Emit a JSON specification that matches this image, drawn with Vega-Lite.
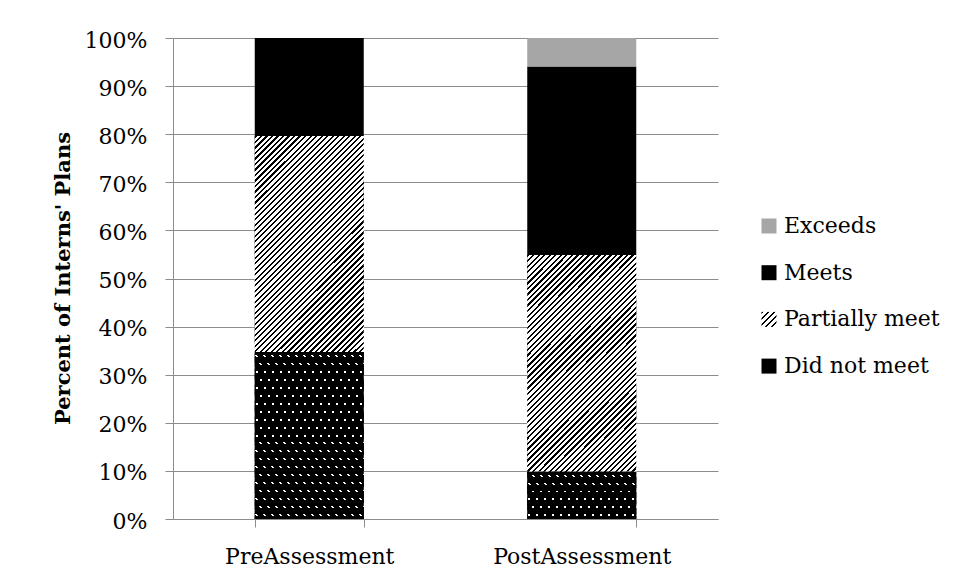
{
  "$schema": "https://vega.github.io/schema/vega-lite/v6.json",
  "width": 545,
  "height": 481,
  "autosize": {"type": "none"},
  "padding": {"left": 173, "top": 38, "right": 238, "bottom": 61},
  "background": "white",
  "config": {"view": {"stroke": null}, "font": "DejaVu Serif"},
  "data": {"values": [
    {"assessment": "PreAssessment", "level": "Did not meet", "k": 1, "share": 0.347},
    {"assessment": "PreAssessment", "level": "Partially meet", "k": 2, "share": 0.449},
    {"assessment": "PreAssessment", "level": "Meets", "k": 3, "share": 0.204},
    {"assessment": "PostAssessment", "level": "Did not meet", "k": 1, "share": 0.098},
    {"assessment": "PostAssessment", "level": "Partially meet", "k": 2, "share": 0.451},
    {"assessment": "PostAssessment", "level": "Meets", "k": 3, "share": 0.392},
    {"assessment": "PostAssessment", "level": "Exceeds", "k": 4, "share": 0.059}
  ]},
  "transform": [
    {"stack": "share", "groupby": ["assessment"], "sort": [{"field": "k", "order": "ascending"}], "as": ["v0", "v1"]}
  ],
  "encoding": {
    "x": {
      "field": "assessment", "type": "nominal", "sort": ["PreAssessment", "PostAssessment"],
      "scale": {"paddingInner": 0.6, "paddingOuter": 0.3},
      "axis": {
        "title": null, "labelAngle": 0, "labelFont": "DejaVu Serif", "labelFontSize": 22, "labelColor": "#000",
        "labelPadding": 19, "tickBand": "extent", "tickSize": 8, "tickColor": "#8c8c8c", "domainColor": "#8c8c8c", "grid": false
      }
    },
    "y": {
      "field": "v1", "type": "quantitative", "scale": {"domain": [0, 1], "nice": false},
      "axis": {
        "title": "Percent of Interns' Plans", "values": [0, 0.1, 0.2, 0.3, 0.4, 0.5, 0.6, 0.7, 0.8, 0.9, 1], "format": ".0%",
        "grid": true, "gridColor": "#8c8c8c", "gridWidth": 1, "domainColor": "#8c8c8c", "tickColor": "#8c8c8c", "tickSize": 8,
        "labelFont": "DejaVu Serif", "labelFontSize": 22, "labelColor": "#000", "labelPadding": 18, "labelOffset": 2,
        "titleFont": "DejaVu Serif", "titleFontSize": 21, "titleFontWeight": "bold", "titleColor": "#000",
        "titleX": -110, "titleY": 240, "titleAngle": 270, "titleAlign": "center", "titleBaseline": "middle"
      }
    },
    "y2": {"field": "v0"}
  },
  "layer": [
    {
      "mark": {"type": "bar"},
      "encoding": {
        "color": {
          "field": "level", "type": "nominal",
          "scale": {
            "domain": ["Exceeds", "Meets", "Partially meet", "Did not meet"],
            "range": [
              "#a6a6a6",
              "#000000",
              {"expr": "{gradient: 'linear', x1: 0, y1: 0, x2: 1, y2: 1, stops: [{offset: 0, color: '#000'}, {offset: 0.08, color: '#000'}, {offset: 0.08, color: '#fff'}, {offset: 0.2, color: '#fff'}, {offset: 0.2, color: '#000'}, {offset: 0.28, color: '#000'}, {offset: 0.28, color: '#fff'}, {offset: 0.4, color: '#fff'}, {offset: 0.4, color: '#000'}, {offset: 0.48, color: '#000'}, {offset: 0.48, color: '#fff'}, {offset: 0.6, color: '#fff'}, {offset: 0.6, color: '#000'}, {offset: 0.68, color: '#000'}, {offset: 0.68, color: '#fff'}, {offset: 0.8, color: '#fff'}, {offset: 0.8, color: '#000'}, {offset: 0.88, color: '#000'}, {offset: 0.88, color: '#fff'}, {offset: 1, color: '#fff'}]}"},
              "#000000"
            ]
          },
          "legend": {
            "title": null, "orient": "none", "legendX": 585, "legendY": 177, "symbolType": "square", "symbolSize": 225,
            "symbolStrokeWidth": 0, "labelFont": "DejaVu Serif", "labelFontSize": 22, "labelColor": "#000", "labelOffset": 4,
            "rowPadding": 24.7, "padding": 0
          }
        }
      }
    },
    {
      "transform": [{"filter": "datum.level === 'Partially meet'"}],
      "mark": {"type": "bar", "fill": {"gradient": "linear", "x1": 0, "y1": 0, "x2": 0.605, "y2": 1.2, "stops": [
        {"offset": 0, "color": "#000"}, {"offset": 0.0068, "color": "#000"}, {"offset": 0.0068, "color": "#fff"}, {"offset": 0.0169, "color": "#fff"},
        {"offset": 0.0169, "color": "#000"}, {"offset": 0.0237, "color": "#000"}, {"offset": 0.0237, "color": "#fff"}, {"offset": 0.0339, "color": "#fff"},
        {"offset": 0.0339, "color": "#000"}, {"offset": 0.0407, "color": "#000"}, {"offset": 0.0407, "color": "#fff"}, {"offset": 0.0508, "color": "#fff"},
        {"offset": 0.0508, "color": "#000"}, {"offset": 0.0576, "color": "#000"}, {"offset": 0.0576, "color": "#fff"}, {"offset": 0.0678, "color": "#fff"},
        {"offset": 0.0678, "color": "#000"}, {"offset": 0.0746, "color": "#000"}, {"offset": 0.0746, "color": "#fff"}, {"offset": 0.0847, "color": "#fff"},
        {"offset": 0.0847, "color": "#000"}, {"offset": 0.0915, "color": "#000"}, {"offset": 0.0915, "color": "#fff"}, {"offset": 0.1017, "color": "#fff"},
        {"offset": 0.1017, "color": "#000"}, {"offset": 0.1085, "color": "#000"}, {"offset": 0.1085, "color": "#fff"}, {"offset": 0.1186, "color": "#fff"},
        {"offset": 0.1186, "color": "#000"}, {"offset": 0.1254, "color": "#000"}, {"offset": 0.1254, "color": "#fff"}, {"offset": 0.1356, "color": "#fff"},
        {"offset": 0.1356, "color": "#000"}, {"offset": 0.1424, "color": "#000"}, {"offset": 0.1424, "color": "#fff"}, {"offset": 0.1525, "color": "#fff"},
        {"offset": 0.1525, "color": "#000"}, {"offset": 0.1593, "color": "#000"}, {"offset": 0.1593, "color": "#fff"}, {"offset": 0.1695, "color": "#fff"},
        {"offset": 0.1695, "color": "#000"}, {"offset": 0.1763, "color": "#000"}, {"offset": 0.1763, "color": "#fff"}, {"offset": 0.1864, "color": "#fff"},
        {"offset": 0.1864, "color": "#000"}, {"offset": 0.1932, "color": "#000"}, {"offset": 0.1932, "color": "#fff"}, {"offset": 0.2034, "color": "#fff"},
        {"offset": 0.2034, "color": "#000"}, {"offset": 0.2102, "color": "#000"}, {"offset": 0.2102, "color": "#fff"}, {"offset": 0.2203, "color": "#fff"},
        {"offset": 0.2203, "color": "#000"}, {"offset": 0.2271, "color": "#000"}, {"offset": 0.2271, "color": "#fff"}, {"offset": 0.2373, "color": "#fff"},
        {"offset": 0.2373, "color": "#000"}, {"offset": 0.2441, "color": "#000"}, {"offset": 0.2441, "color": "#fff"}, {"offset": 0.2542, "color": "#fff"},
        {"offset": 0.2542, "color": "#000"}, {"offset": 0.2610, "color": "#000"}, {"offset": 0.2610, "color": "#fff"}, {"offset": 0.2712, "color": "#fff"},
        {"offset": 0.2712, "color": "#000"}, {"offset": 0.2780, "color": "#000"}, {"offset": 0.2780, "color": "#fff"}, {"offset": 0.2881, "color": "#fff"},
        {"offset": 0.2881, "color": "#000"}, {"offset": 0.2949, "color": "#000"}, {"offset": 0.2949, "color": "#fff"}, {"offset": 0.3051, "color": "#fff"},
        {"offset": 0.3051, "color": "#000"}, {"offset": 0.3119, "color": "#000"}, {"offset": 0.3119, "color": "#fff"}, {"offset": 0.3220, "color": "#fff"},
        {"offset": 0.3220, "color": "#000"}, {"offset": 0.3288, "color": "#000"}, {"offset": 0.3288, "color": "#fff"}, {"offset": 0.3390, "color": "#fff"},
        {"offset": 0.3390, "color": "#000"}, {"offset": 0.3458, "color": "#000"}, {"offset": 0.3458, "color": "#fff"}, {"offset": 0.3559, "color": "#fff"},
        {"offset": 0.3559, "color": "#000"}, {"offset": 0.3627, "color": "#000"}, {"offset": 0.3627, "color": "#fff"}, {"offset": 0.3729, "color": "#fff"},
        {"offset": 0.3729, "color": "#000"}, {"offset": 0.3797, "color": "#000"}, {"offset": 0.3797, "color": "#fff"}, {"offset": 0.3898, "color": "#fff"},
        {"offset": 0.3898, "color": "#000"}, {"offset": 0.3966, "color": "#000"}, {"offset": 0.3966, "color": "#fff"}, {"offset": 0.4068, "color": "#fff"},
        {"offset": 0.4068, "color": "#000"}, {"offset": 0.4136, "color": "#000"}, {"offset": 0.4136, "color": "#fff"}, {"offset": 0.4237, "color": "#fff"},
        {"offset": 0.4237, "color": "#000"}, {"offset": 0.4305, "color": "#000"}, {"offset": 0.4305, "color": "#fff"}, {"offset": 0.4407, "color": "#fff"},
        {"offset": 0.4407, "color": "#000"}, {"offset": 0.4475, "color": "#000"}, {"offset": 0.4475, "color": "#fff"}, {"offset": 0.4576, "color": "#fff"},
        {"offset": 0.4576, "color": "#000"}, {"offset": 0.4644, "color": "#000"}, {"offset": 0.4644, "color": "#fff"}, {"offset": 0.4746, "color": "#fff"},
        {"offset": 0.4746, "color": "#000"}, {"offset": 0.4814, "color": "#000"}, {"offset": 0.4814, "color": "#fff"}, {"offset": 0.4915, "color": "#fff"},
        {"offset": 0.4915, "color": "#000"}, {"offset": 0.4983, "color": "#000"}, {"offset": 0.4983, "color": "#fff"}, {"offset": 0.5085, "color": "#fff"},
        {"offset": 0.5085, "color": "#000"}, {"offset": 0.5153, "color": "#000"}, {"offset": 0.5153, "color": "#fff"}, {"offset": 0.5254, "color": "#fff"},
        {"offset": 0.5254, "color": "#000"}, {"offset": 0.5322, "color": "#000"}, {"offset": 0.5322, "color": "#fff"}, {"offset": 0.5424, "color": "#fff"},
        {"offset": 0.5424, "color": "#000"}, {"offset": 0.5492, "color": "#000"}, {"offset": 0.5492, "color": "#fff"}, {"offset": 0.5593, "color": "#fff"},
        {"offset": 0.5593, "color": "#000"}, {"offset": 0.5661, "color": "#000"}, {"offset": 0.5661, "color": "#fff"}, {"offset": 0.5763, "color": "#fff"},
        {"offset": 0.5763, "color": "#000"}, {"offset": 0.5831, "color": "#000"}, {"offset": 0.5831, "color": "#fff"}, {"offset": 0.5932, "color": "#fff"},
        {"offset": 0.5932, "color": "#000"}, {"offset": 0.6000, "color": "#000"}, {"offset": 0.6000, "color": "#fff"}, {"offset": 0.6102, "color": "#fff"},
        {"offset": 0.6102, "color": "#000"}, {"offset": 0.6170, "color": "#000"}, {"offset": 0.6170, "color": "#fff"}, {"offset": 0.6271, "color": "#fff"},
        {"offset": 0.6271, "color": "#000"}, {"offset": 0.6339, "color": "#000"}, {"offset": 0.6339, "color": "#fff"}, {"offset": 0.6441, "color": "#fff"},
        {"offset": 0.6441, "color": "#000"}, {"offset": 0.6509, "color": "#000"}, {"offset": 0.6509, "color": "#fff"}, {"offset": 0.6610, "color": "#fff"},
        {"offset": 0.6610, "color": "#000"}, {"offset": 0.6678, "color": "#000"}, {"offset": 0.6678, "color": "#fff"}, {"offset": 0.6780, "color": "#fff"},
        {"offset": 0.6780, "color": "#000"}, {"offset": 0.6848, "color": "#000"}, {"offset": 0.6848, "color": "#fff"}, {"offset": 0.6949, "color": "#fff"},
        {"offset": 0.6949, "color": "#000"}, {"offset": 0.7017, "color": "#000"}, {"offset": 0.7017, "color": "#fff"}, {"offset": 0.7119, "color": "#fff"},
        {"offset": 0.7119, "color": "#000"}, {"offset": 0.7187, "color": "#000"}, {"offset": 0.7187, "color": "#fff"}, {"offset": 0.7288, "color": "#fff"},
        {"offset": 0.7288, "color": "#000"}, {"offset": 0.7356, "color": "#000"}, {"offset": 0.7356, "color": "#fff"}, {"offset": 0.7458, "color": "#fff"},
        {"offset": 0.7458, "color": "#000"}, {"offset": 0.7526, "color": "#000"}, {"offset": 0.7526, "color": "#fff"}, {"offset": 0.7627, "color": "#fff"},
        {"offset": 0.7627, "color": "#000"}, {"offset": 0.7695, "color": "#000"}, {"offset": 0.7695, "color": "#fff"}, {"offset": 0.7797, "color": "#fff"},
        {"offset": 0.7797, "color": "#000"}, {"offset": 0.7865, "color": "#000"}, {"offset": 0.7865, "color": "#fff"}, {"offset": 0.7966, "color": "#fff"},
        {"offset": 0.7966, "color": "#000"}, {"offset": 0.8034, "color": "#000"}, {"offset": 0.8034, "color": "#fff"}, {"offset": 0.8136, "color": "#fff"},
        {"offset": 0.8136, "color": "#000"}, {"offset": 0.8204, "color": "#000"}, {"offset": 0.8204, "color": "#fff"}, {"offset": 0.8305, "color": "#fff"},
        {"offset": 0.8305, "color": "#000"}, {"offset": 0.8373, "color": "#000"}, {"offset": 0.8373, "color": "#fff"}, {"offset": 0.8475, "color": "#fff"},
        {"offset": 0.8475, "color": "#000"}, {"offset": 0.8543, "color": "#000"}, {"offset": 0.8543, "color": "#fff"}, {"offset": 0.8644, "color": "#fff"},
        {"offset": 0.8644, "color": "#000"}, {"offset": 0.8712, "color": "#000"}, {"offset": 0.8712, "color": "#fff"}, {"offset": 0.8814, "color": "#fff"},
        {"offset": 0.8814, "color": "#000"}, {"offset": 0.8882, "color": "#000"}, {"offset": 0.8882, "color": "#fff"}, {"offset": 0.8983, "color": "#fff"},
        {"offset": 0.8983, "color": "#000"}, {"offset": 0.9051, "color": "#000"}, {"offset": 0.9051, "color": "#fff"}, {"offset": 0.9153, "color": "#fff"},
        {"offset": 0.9153, "color": "#000"}, {"offset": 0.9221, "color": "#000"}, {"offset": 0.9221, "color": "#fff"}, {"offset": 0.9322, "color": "#fff"},
        {"offset": 0.9322, "color": "#000"}, {"offset": 0.9390, "color": "#000"}, {"offset": 0.9390, "color": "#fff"}, {"offset": 0.9492, "color": "#fff"},
        {"offset": 0.9492, "color": "#000"}, {"offset": 0.9560, "color": "#000"}, {"offset": 0.9560, "color": "#fff"}, {"offset": 0.9661, "color": "#fff"},
        {"offset": 0.9661, "color": "#000"}, {"offset": 0.9729, "color": "#000"}, {"offset": 0.9729, "color": "#fff"}, {"offset": 0.9831, "color": "#fff"},
        {"offset": 0.9831, "color": "#000"}, {"offset": 0.9899, "color": "#000"}, {"offset": 0.9899, "color": "#fff"}, {"offset": 1, "color": "#fff"}
      ]}}
    },
    {
      "transform": [{"filter": "datum.level === 'Did not meet' && datum.assessment === 'PreAssessment'"}],
      "mark": {"type": "bar", "fill": {"gradient": "linear", "x1": 0, "y1": 1, "x2": 1.1109, "y2": 0.1439, "stops": [
        {"offset": 0, "color": "#000"},
        {"offset": 0.01554, "color": "#000"}, {"offset": 0.01554, "color": "#fff"}, {"offset": 0.02591, "color": "#fff"}, {"offset": 0.02591, "color": "#000"},
        {"offset": 0.05699, "color": "#000"}, {"offset": 0.05699, "color": "#fff"}, {"offset": 0.06736, "color": "#fff"}, {"offset": 0.06736, "color": "#000"},
        {"offset": 0.09845, "color": "#000"}, {"offset": 0.09845, "color": "#fff"}, {"offset": 0.10881, "color": "#fff"}, {"offset": 0.10881, "color": "#000"},
        {"offset": 0.13990, "color": "#000"}, {"offset": 0.13990, "color": "#fff"}, {"offset": 0.15026, "color": "#fff"}, {"offset": 0.15026, "color": "#000"},
        {"offset": 0.18135, "color": "#000"}, {"offset": 0.18135, "color": "#fff"}, {"offset": 0.19171, "color": "#fff"}, {"offset": 0.19171, "color": "#000"},
        {"offset": 0.22280, "color": "#000"}, {"offset": 0.22280, "color": "#fff"}, {"offset": 0.23316, "color": "#fff"}, {"offset": 0.23316, "color": "#000"},
        {"offset": 0.26425, "color": "#000"}, {"offset": 0.26425, "color": "#fff"}, {"offset": 0.27461, "color": "#fff"}, {"offset": 0.27461, "color": "#000"},
        {"offset": 0.30570, "color": "#000"}, {"offset": 0.30570, "color": "#fff"}, {"offset": 0.31606, "color": "#fff"}, {"offset": 0.31606, "color": "#000"},
        {"offset": 0.34715, "color": "#000"}, {"offset": 0.34715, "color": "#fff"}, {"offset": 0.35751, "color": "#fff"}, {"offset": 0.35751, "color": "#000"},
        {"offset": 0.38860, "color": "#000"}, {"offset": 0.38860, "color": "#fff"}, {"offset": 0.39896, "color": "#fff"}, {"offset": 0.39896, "color": "#000"},
        {"offset": 0.43005, "color": "#000"}, {"offset": 0.43005, "color": "#fff"}, {"offset": 0.44041, "color": "#fff"}, {"offset": 0.44041, "color": "#000"},
        {"offset": 0.47150, "color": "#000"}, {"offset": 0.47150, "color": "#fff"}, {"offset": 0.48187, "color": "#fff"}, {"offset": 0.48187, "color": "#000"},
        {"offset": 0.51295, "color": "#000"}, {"offset": 0.51295, "color": "#fff"}, {"offset": 0.52332, "color": "#fff"}, {"offset": 0.52332, "color": "#000"},
        {"offset": 0.55440, "color": "#000"}, {"offset": 0.55440, "color": "#fff"}, {"offset": 0.56477, "color": "#fff"}, {"offset": 0.56477, "color": "#000"},
        {"offset": 0.59585, "color": "#000"}, {"offset": 0.59585, "color": "#fff"}, {"offset": 0.60622, "color": "#fff"}, {"offset": 0.60622, "color": "#000"},
        {"offset": 0.63731, "color": "#000"}, {"offset": 0.63731, "color": "#fff"}, {"offset": 0.64767, "color": "#fff"}, {"offset": 0.64767, "color": "#000"},
        {"offset": 0.67876, "color": "#000"}, {"offset": 0.67876, "color": "#fff"}, {"offset": 0.68912, "color": "#fff"}, {"offset": 0.68912, "color": "#000"},
        {"offset": 0.72021, "color": "#000"}, {"offset": 0.72021, "color": "#fff"}, {"offset": 0.73057, "color": "#fff"}, {"offset": 0.73057, "color": "#000"},
        {"offset": 0.76166, "color": "#000"}, {"offset": 0.76166, "color": "#fff"}, {"offset": 0.77202, "color": "#fff"}, {"offset": 0.77202, "color": "#000"},
        {"offset": 0.80311, "color": "#000"}, {"offset": 0.80311, "color": "#fff"}, {"offset": 0.81347, "color": "#fff"}, {"offset": 0.81347, "color": "#000"},
        {"offset": 0.84456, "color": "#000"}, {"offset": 0.84456, "color": "#fff"}, {"offset": 0.85492, "color": "#fff"}, {"offset": 0.85492, "color": "#000"},
        {"offset": 0.88601, "color": "#000"}, {"offset": 0.88601, "color": "#fff"}, {"offset": 0.89637, "color": "#fff"}, {"offset": 0.89637, "color": "#000"},
        {"offset": 0.92746, "color": "#000"}, {"offset": 0.92746, "color": "#fff"}, {"offset": 0.93782, "color": "#fff"}, {"offset": 0.93782, "color": "#000"},
        {"offset": 0.96891, "color": "#000"}, {"offset": 0.96891, "color": "#fff"}, {"offset": 0.97927, "color": "#fff"}, {"offset": 0.97927, "color": "#000"},
        {"offset": 1, "color": "#000"}
      ]}}
    },
    {
      "transform": [{"filter": "datum.level === 'Did not meet' && datum.assessment === 'PreAssessment'"}],
      "mark": {"type": "bar", "fill": {"gradient": "linear", "x1": 0, "y1": 1, "x2": 0, "y2": 0, "stops": [
        {"offset": 0, "color": "#000"},
        {"offset": 0.0178, "color": "#000"}, {"offset": 0.0178, "color": "rgba(0,0,0,0)"}, {"offset": 0.0298, "color": "rgba(0,0,0,0)"}, {"offset": 0.0298, "color": "#000"},
        {"offset": 0.0654, "color": "#000"}, {"offset": 0.0654, "color": "rgba(0,0,0,0)"}, {"offset": 0.0774, "color": "rgba(0,0,0,0)"}, {"offset": 0.0774, "color": "#000"},
        {"offset": 0.1130, "color": "#000"}, {"offset": 0.1130, "color": "rgba(0,0,0,0)"}, {"offset": 0.1250, "color": "rgba(0,0,0,0)"}, {"offset": 0.1250, "color": "#000"},
        {"offset": 0.1607, "color": "#000"}, {"offset": 0.1607, "color": "rgba(0,0,0,0)"}, {"offset": 0.1727, "color": "rgba(0,0,0,0)"}, {"offset": 0.1727, "color": "#000"},
        {"offset": 0.2083, "color": "#000"}, {"offset": 0.2083, "color": "rgba(0,0,0,0)"}, {"offset": 0.2203, "color": "rgba(0,0,0,0)"}, {"offset": 0.2203, "color": "#000"},
        {"offset": 0.2559, "color": "#000"}, {"offset": 0.2559, "color": "rgba(0,0,0,0)"}, {"offset": 0.2679, "color": "rgba(0,0,0,0)"}, {"offset": 0.2679, "color": "#000"},
        {"offset": 0.3035, "color": "#000"}, {"offset": 0.3035, "color": "rgba(0,0,0,0)"}, {"offset": 0.3155, "color": "rgba(0,0,0,0)"}, {"offset": 0.3155, "color": "#000"},
        {"offset": 0.3511, "color": "#000"}, {"offset": 0.3511, "color": "rgba(0,0,0,0)"}, {"offset": 0.3631, "color": "rgba(0,0,0,0)"}, {"offset": 0.3631, "color": "#000"},
        {"offset": 0.3988, "color": "#000"}, {"offset": 0.3988, "color": "rgba(0,0,0,0)"}, {"offset": 0.4108, "color": "rgba(0,0,0,0)"}, {"offset": 0.4108, "color": "#000"},
        {"offset": 0.4464, "color": "#000"}, {"offset": 0.4464, "color": "rgba(0,0,0,0)"}, {"offset": 0.4584, "color": "rgba(0,0,0,0)"}, {"offset": 0.4584, "color": "#000"},
        {"offset": 0.4940, "color": "#000"}, {"offset": 0.4940, "color": "rgba(0,0,0,0)"}, {"offset": 0.5060, "color": "rgba(0,0,0,0)"}, {"offset": 0.5060, "color": "#000"},
        {"offset": 0.5416, "color": "#000"}, {"offset": 0.5416, "color": "rgba(0,0,0,0)"}, {"offset": 0.5536, "color": "rgba(0,0,0,0)"}, {"offset": 0.5536, "color": "#000"},
        {"offset": 0.5892, "color": "#000"}, {"offset": 0.5892, "color": "rgba(0,0,0,0)"}, {"offset": 0.6012, "color": "rgba(0,0,0,0)"}, {"offset": 0.6012, "color": "#000"},
        {"offset": 0.6369, "color": "#000"}, {"offset": 0.6369, "color": "rgba(0,0,0,0)"}, {"offset": 0.6489, "color": "rgba(0,0,0,0)"}, {"offset": 0.6489, "color": "#000"},
        {"offset": 0.6845, "color": "#000"}, {"offset": 0.6845, "color": "rgba(0,0,0,0)"}, {"offset": 0.6965, "color": "rgba(0,0,0,0)"}, {"offset": 0.6965, "color": "#000"},
        {"offset": 0.7321, "color": "#000"}, {"offset": 0.7321, "color": "rgba(0,0,0,0)"}, {"offset": 0.7441, "color": "rgba(0,0,0,0)"}, {"offset": 0.7441, "color": "#000"},
        {"offset": 0.7797, "color": "#000"}, {"offset": 0.7797, "color": "rgba(0,0,0,0)"}, {"offset": 0.7917, "color": "rgba(0,0,0,0)"}, {"offset": 0.7917, "color": "#000"},
        {"offset": 0.8273, "color": "#000"}, {"offset": 0.8273, "color": "rgba(0,0,0,0)"}, {"offset": 0.8393, "color": "rgba(0,0,0,0)"}, {"offset": 0.8393, "color": "#000"},
        {"offset": 0.8750, "color": "#000"}, {"offset": 0.8750, "color": "rgba(0,0,0,0)"}, {"offset": 0.8870, "color": "rgba(0,0,0,0)"}, {"offset": 0.8870, "color": "#000"},
        {"offset": 0.9226, "color": "#000"}, {"offset": 0.9226, "color": "rgba(0,0,0,0)"}, {"offset": 0.9346, "color": "rgba(0,0,0,0)"}, {"offset": 0.9346, "color": "#000"},
        {"offset": 0.9702, "color": "#000"}, {"offset": 0.9702, "color": "rgba(0,0,0,0)"}, {"offset": 0.9822, "color": "rgba(0,0,0,0)"}, {"offset": 0.9822, "color": "#000"},
        {"offset": 1, "color": "#000"}
      ]}}
    },
    {
      "transform": [{"filter": "datum.level === 'Did not meet' && datum.assessment === 'PostAssessment'"}],
      "mark": {"type": "bar", "fill": {"gradient": "linear", "x1": 0, "y1": 1, "x2": 1.1638, "y2": 0.7438, "stops": [
        {"offset": 0, "color": "#000"},
        {"offset": 0.02256, "color": "#000"}, {"offset": 0.02256, "color": "#fff"}, {"offset": 0.03759, "color": "#fff"}, {"offset": 0.03759, "color": "#000"},
        {"offset": 0.08271, "color": "#000"}, {"offset": 0.08271, "color": "#fff"}, {"offset": 0.09774, "color": "#fff"}, {"offset": 0.09774, "color": "#000"},
        {"offset": 0.14286, "color": "#000"}, {"offset": 0.14286, "color": "#fff"}, {"offset": 0.15789, "color": "#fff"}, {"offset": 0.15789, "color": "#000"},
        {"offset": 0.20301, "color": "#000"}, {"offset": 0.20301, "color": "#fff"}, {"offset": 0.21805, "color": "#fff"}, {"offset": 0.21805, "color": "#000"},
        {"offset": 0.26316, "color": "#000"}, {"offset": 0.26316, "color": "#fff"}, {"offset": 0.27820, "color": "#fff"}, {"offset": 0.27820, "color": "#000"},
        {"offset": 0.32331, "color": "#000"}, {"offset": 0.32331, "color": "#fff"}, {"offset": 0.33835, "color": "#fff"}, {"offset": 0.33835, "color": "#000"},
        {"offset": 0.38346, "color": "#000"}, {"offset": 0.38346, "color": "#fff"}, {"offset": 0.39850, "color": "#fff"}, {"offset": 0.39850, "color": "#000"},
        {"offset": 0.44361, "color": "#000"}, {"offset": 0.44361, "color": "#fff"}, {"offset": 0.45865, "color": "#fff"}, {"offset": 0.45865, "color": "#000"},
        {"offset": 0.50376, "color": "#000"}, {"offset": 0.50376, "color": "#fff"}, {"offset": 0.51880, "color": "#fff"}, {"offset": 0.51880, "color": "#000"},
        {"offset": 0.56391, "color": "#000"}, {"offset": 0.56391, "color": "#fff"}, {"offset": 0.57895, "color": "#fff"}, {"offset": 0.57895, "color": "#000"},
        {"offset": 0.62406, "color": "#000"}, {"offset": 0.62406, "color": "#fff"}, {"offset": 0.63910, "color": "#fff"}, {"offset": 0.63910, "color": "#000"},
        {"offset": 0.68421, "color": "#000"}, {"offset": 0.68421, "color": "#fff"}, {"offset": 0.69925, "color": "#fff"}, {"offset": 0.69925, "color": "#000"},
        {"offset": 0.74436, "color": "#000"}, {"offset": 0.74436, "color": "#fff"}, {"offset": 0.75940, "color": "#fff"}, {"offset": 0.75940, "color": "#000"},
        {"offset": 0.80451, "color": "#000"}, {"offset": 0.80451, "color": "#fff"}, {"offset": 0.81955, "color": "#fff"}, {"offset": 0.81955, "color": "#000"},
        {"offset": 0.86466, "color": "#000"}, {"offset": 0.86466, "color": "#fff"}, {"offset": 0.87970, "color": "#fff"}, {"offset": 0.87970, "color": "#000"},
        {"offset": 0.92481, "color": "#000"}, {"offset": 0.92481, "color": "#fff"}, {"offset": 0.93985, "color": "#fff"}, {"offset": 0.93985, "color": "#000"},
        {"offset": 0.98496, "color": "#000"}, {"offset": 0.98496, "color": "#fff"}, {"offset": 1, "color": "#fff"}
      ]}}
    },
    {
      "transform": [{"filter": "datum.level === 'Did not meet' && datum.assessment === 'PostAssessment'"}],
      "mark": {"type": "bar", "fill": {"gradient": "linear", "x1": 0, "y1": 1, "x2": 0, "y2": 0, "stops": [
        {"offset": 0, "color": "#000"},
        {"offset": 0.0622, "color": "#000"}, {"offset": 0.0622, "color": "rgba(0,0,0,0)"}, {"offset": 0.1045, "color": "rgba(0,0,0,0)"}, {"offset": 0.1045, "color": "#000"},
        {"offset": 0.2288, "color": "#000"}, {"offset": 0.2288, "color": "rgba(0,0,0,0)"}, {"offset": 0.2712, "color": "rgba(0,0,0,0)"}, {"offset": 0.2712, "color": "#000"},
        {"offset": 0.3955, "color": "#000"}, {"offset": 0.3955, "color": "rgba(0,0,0,0)"}, {"offset": 0.4378, "color": "rgba(0,0,0,0)"}, {"offset": 0.4378, "color": "#000"},
        {"offset": 0.5622, "color": "#000"}, {"offset": 0.5622, "color": "rgba(0,0,0,0)"}, {"offset": 0.6045, "color": "rgba(0,0,0,0)"}, {"offset": 0.6045, "color": "#000"},
        {"offset": 0.7288, "color": "#000"}, {"offset": 0.7288, "color": "rgba(0,0,0,0)"}, {"offset": 0.7712, "color": "rgba(0,0,0,0)"}, {"offset": 0.7712, "color": "#000"},
        {"offset": 0.8955, "color": "#000"}, {"offset": 0.8955, "color": "rgba(0,0,0,0)"}, {"offset": 0.9378, "color": "rgba(0,0,0,0)"}, {"offset": 0.9378, "color": "#000"},
        {"offset": 1, "color": "#000"}
      ]}}
    }
  ]
}
